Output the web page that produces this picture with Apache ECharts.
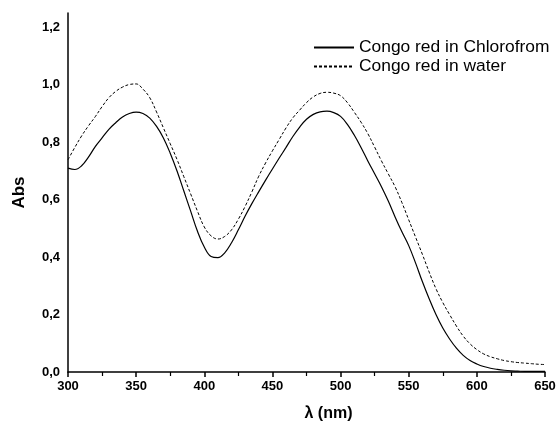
<!DOCTYPE html>
<html>
<head>
<meta charset="utf-8">
<script src="https://cdn.jsdelivr.net/npm/echarts@6/dist/echarts.min.js"></script>
<style>
html,body{margin:0;padding:0;background:#fff;}
#chart{width:556px;height:423px;}
</style>
</head>
<body>
<div id="chart"></div>
<script>
const wavelengths = [300,305,310,315,320,325,330,335,340,345,350,355,360,365,370,375,380,385,390,395,400,405,410,415,420,425,430,435,440,445,450,455,460,465,470,475,480,485,490,495,500,505,510,515,520,525,530,535,540,545,550,555,560,565,570,575,580,585,590,595,600,605,610,615,620,625,630,635,640,645,650];
const chloroform = [0.710,0.705,0.718,0.748,0.785,0.815,0.845,0.868,0.888,0.900,0.905,0.900,0.884,0.855,0.815,0.762,0.700,0.630,0.560,0.490,0.435,0.402,0.398,0.415,0.450,0.495,0.543,0.587,0.628,0.668,0.707,0.745,0.782,0.820,0.853,0.880,0.897,0.906,0.908,0.903,0.890,0.862,0.825,0.782,0.735,0.690,0.645,0.595,0.540,0.488,0.440,0.380,0.315,0.255,0.200,0.153,0.115,0.083,0.058,0.040,0.028,0.019,0.013,0.009,0.006,0.004,0.003,0.002,0.002,0.002,0.002];
const water = [0.739,0.782,0.822,0.857,0.889,0.924,0.955,0.977,0.992,1.001,1.003,0.985,0.955,0.905,0.850,0.795,0.740,0.680,0.620,0.560,0.505,0.474,0.463,0.472,0.495,0.532,0.577,0.628,0.682,0.728,0.770,0.810,0.850,0.885,0.912,0.938,0.958,0.970,0.974,0.971,0.962,0.938,0.905,0.870,0.830,0.783,0.735,0.690,0.645,0.590,0.530,0.470,0.410,0.348,0.290,0.242,0.200,0.160,0.125,0.098,0.078,0.063,0.053,0.046,0.040,0.036,0.033,0.031,0.029,0.027,0.026];
const seriesNames = ['Congo red in Chlorofrom','Congo red in water'];
const xTitle = 'λ (nm)';
const yTitle = 'Abs';

const chart = echarts.init(document.getElementById('chart'), null, {renderer:'canvas'});
const pairs = arr => wavelengths.map((w,i)=>[w,arr[i]]);
const font = 'Arial, "Liberation Sans", sans-serif';
chart.setOption({
  animation:false,
  grid:{left:68,right:11,top:13,bottom:51,containLabel:false,outerBoundsMode:'none'},
  legend:{
    orient:'vertical',left:308,top:34,itemWidth:40,itemHeight:14,itemGap:2,
    itemStyle:{opacity:0},
    textStyle:{fontFamily:font,fontSize:17.4,color:'#000'},
    data:seriesNames
  },
  xAxis:{
    type:'value',min:300,max:650,interval:50,
    name:xTitle,nameLocation:'middle',nameGap:34,
    nameTextStyle:{fontFamily:font,fontSize:16,fontWeight:'bold',color:'#000',padding:[0,0,0,44]},
    axisLine:{lineStyle:{color:'#000',width:1.5}},
    axisTick:{show:true,inside:false,length:5,lineStyle:{color:'#000',width:1.5}},
    minorTick:{show:true,splitNumber:2,length:4,lineStyle:{color:'#000',width:1.2}},
    axisLabel:{fontFamily:font,fontSize:13,fontWeight:'bold',color:'#000',margin:8},
    splitLine:{show:false}
  },
  yAxis:{
    type:'value',min:0,max:1.25,interval:0.2,
    name:yTitle,nameLocation:'middle',nameGap:40,
    nameTextStyle:{fontFamily:font,fontSize:17,fontWeight:'bold',color:'#000'},
    axisLine:{show:true,lineStyle:{color:'#000',width:1.5}},
    axisTick:{show:false},
    axisLabel:{fontFamily:font,fontSize:13,fontWeight:'bold',color:'#000',margin:8,
      formatter:v=>v.toFixed(1).replace('.',','),
      showMaxLabel:false},
    splitLine:{show:false}
  },
  series:[
    {name:seriesNames[0],type:'line',data:pairs(chloroform),smooth:0.4,symbol:'none',
     lineStyle:{color:'#000',width:1.2,type:'solid'},itemStyle:{color:'#000'}},
    {name:seriesNames[1],type:'line',data:pairs(water),smooth:0.4,symbol:'none',
     lineStyle:{color:'#000',width:1,type:[3,2]},itemStyle:{color:'#000'}}
  ]
});
</script>
</body>
</html>
